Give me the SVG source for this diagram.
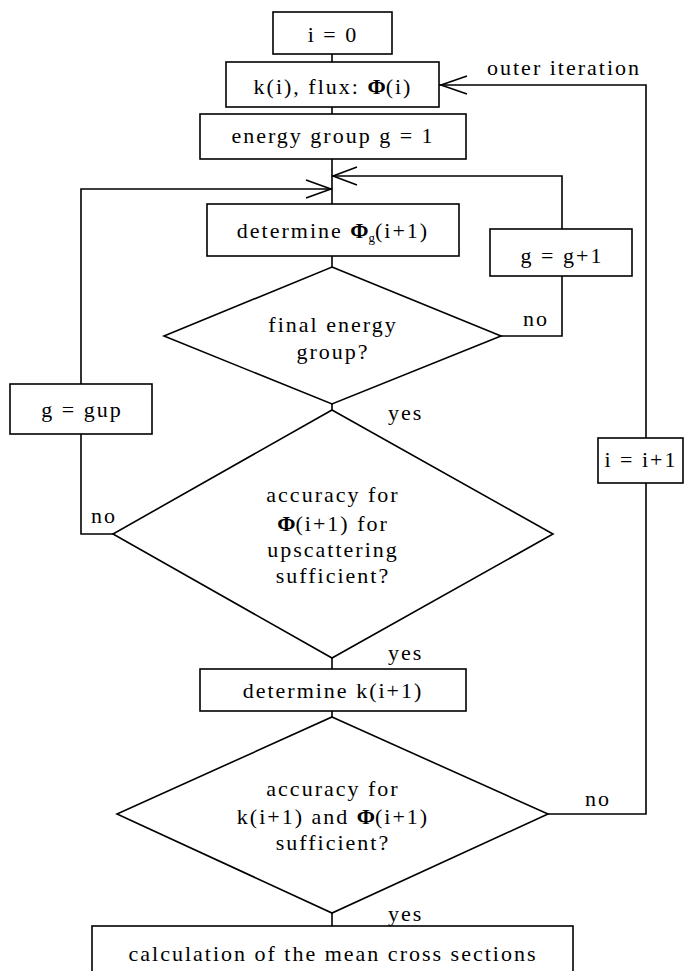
<svg xmlns="http://www.w3.org/2000/svg" width="685" height="971" viewBox="0 0 685 971">
  <style>
    .box { fill: #fff; stroke: #000; stroke-width: 1.6; }
    .dia { fill: #fff; stroke: #000; stroke-width: 1.6; }
    .wire { fill: none; stroke: #000; stroke-width: 1.6; }
    .head { fill: none; stroke: #000; stroke-width: 1.6; }
    text { font-family: "Liberation Serif", "Times New Roman", serif; font-size: 22px; fill: #000; letter-spacing: 2px; }
    .c { text-anchor: middle; }
    .phi { font-weight: bold; letter-spacing: 0; }
    .sub { font-size: 13px; letter-spacing: 0; }
  </style>

  <!-- connectors -->
  <g id="connectors">
    <path class="wire" d="M332 54 V62"/>
    <path class="wire" d="M332 107 V114"/>
    <path class="wire" d="M332 159 V204"/>
    <path class="wire" d="M332 256 V267"/>
    <!-- inner loop: next energy group -->
    <path class="wire" d="M501 336 H562 V276"/>
    <path class="wire" d="M562 229 V176 H332"/>
    <path class="head" d="M357 167 L333 176 L357 185"/>
    <path class="wire" d="M332 404 V410"/>
    <!-- upscattering loop -->
    <path class="wire" d="M113 534 H81 V434"/>
    <path class="wire" d="M81 384 V189 H332"/>
    <path class="head" d="M306 180 L331 189 L306 198"/>
    <path class="wire" d="M332 658 V669"/>
    <path class="wire" d="M332 711 V717"/>
    <!-- outer iteration loop -->
    <path class="wire" d="M548 814 H646 V483"/>
    <path class="wire" d="M646 438 V85 H439"/>
    <path class="head" d="M467 76 L441 85 L467 94"/>
    <path class="wire" d="M332 913 V926"/>
  </g>

  <g id="init">
    <rect class="box" x="273" y="12" width="119" height="42"/>
    <text class="c" x="333" y="42">i = 0</text>
  </g>

  <g id="start-values">
    <rect class="box" x="226" y="62" width="213" height="45"/>
    <text class="c" x="333" y="94">k(i), flux: <tspan class="phi">Φ</tspan>(i)</text>
  </g>
  <text x="487" y="75">outer iteration</text>

  <g id="group-init">
    <rect class="box" x="200" y="114" width="266" height="45"/>
    <text class="c" x="333" y="143">energy group g = 1</text>
  </g>

  <g id="flux-group">
    <rect class="box" x="207" y="204" width="252" height="52"/>
    <text class="c" x="333" y="238">determine <tspan class="phi">Φ</tspan><tspan class="sub" dy="4">g</tspan><tspan dy="-4">(i+1)</tspan></text>
  </g>

  <g id="final-group">
    <polygon class="dia" points="332,267 501,336 332,404 164,336"/>
    <text class="c" x="333" y="332">final energy</text>
    <text class="c" x="333" y="359">group?</text>
  </g>
  <text x="523" y="326">no</text>
  <text x="388" y="420">yes</text>

  <g id="next-group">
    <rect class="box" x="490" y="229" width="142" height="47"/>
    <text class="c" x="562" y="263">g = g+1</text>
  </g>

  <g id="group-up">
    <rect class="box" x="10" y="384" width="142" height="50"/>
    <text class="c" x="82" y="417">g = gup</text>
  </g>

  <g id="upscatter-check">
    <polygon class="dia" points="332,410 553,534 332,658 113,534"/>
    <text class="c" x="333" y="502">accuracy for</text>
    <text class="c" x="333" y="531"><tspan class="phi">Φ</tspan>(i+1) for</text>
    <text class="c" x="333" y="557">upscattering</text>
    <text class="c" x="333" y="583">sufficient?</text>
  </g>
  <text x="91" y="523">no</text>
  <text x="388" y="660">yes</text>

  <g id="next-iteration">
    <rect class="box" x="598" y="438" width="85" height="45"/>
    <text class="c" x="641" y="467">i = i+1</text>
  </g>

  <g id="eigenvalue">
    <rect class="box" x="200" y="669" width="266" height="42"/>
    <text class="c" x="333" y="698">determine k(i+1)</text>
  </g>

  <g id="convergence-check">
    <polygon class="dia" points="332,717 548,814 332,913 117,814"/>
    <text class="c" x="333" y="796">accuracy for</text>
    <text class="c" x="333" y="824">k(i+1) and <tspan class="phi">Φ</tspan>(i+1)</text>
    <text class="c" x="333" y="850">sufficient?</text>
  </g>
  <text x="585" y="806">no</text>
  <text x="388" y="921">yes</text>

  <g id="cross-sections">
    <rect class="box" x="92" y="926" width="481" height="70"/>
    <text class="c" x="333" y="961">calculation of the mean cross sections</text>
  </g>
</svg>
